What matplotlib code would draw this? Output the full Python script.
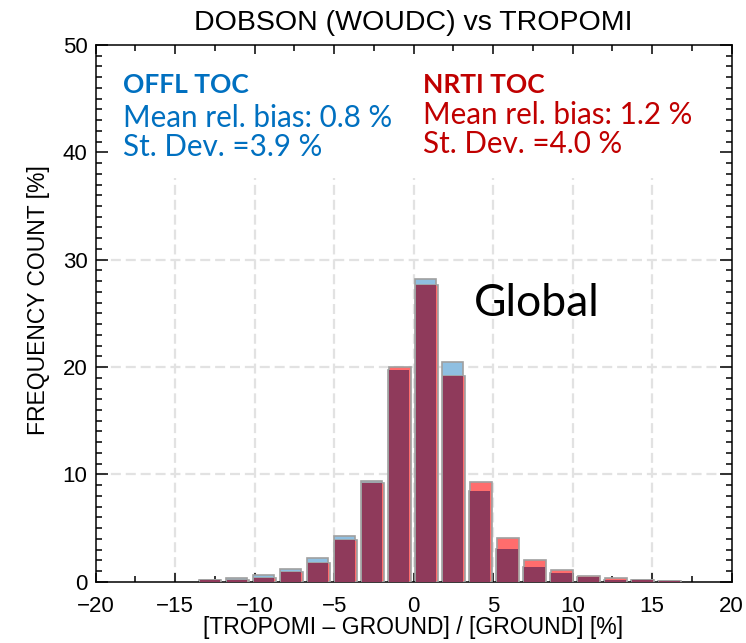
import numpy as np
import matplotlib
matplotlib.use("Agg")
import matplotlib.pyplot as plt
from matplotlib.ticker import MultipleLocator

plt.rcParams['font.family'] = ['Liberation Sans', 'DejaVu Sans']

# histogram bins (centre, %)
bin_centers = [-12.85, -11.15, -9.45, -7.75, -6.05, -4.35, -2.65, -0.95, 0.75,
               2.45, 4.15, 5.85, 7.55, 9.25, 10.95, 12.65, 14.35, 16.05]
offl_freq = [0.12, 0.35, 0.6, 1.2, 2.24, 4.26, 9.41, 19.7, 28.2,
             20.48, 8.45, 3.05, 1.4, 0.78, 0.45, 0.2, 0.12, 0.1]
nrti_freq = [0.12, 0.2, 0.37, 0.9, 1.77, 3.86, 9.17, 20.0, 27.65,
             19.2, 9.26, 4.1, 2.0, 1.12, 0.56, 0.37, 0.12, 0.1]

xticks = [-20, -15, -10, -5, 0, 5, 10, 15, 20]
yticks = [0, 10, 20, 30, 40, 50]

offl_lines = ["OFFL TOC", "Mean rel. bias: 0.8 %", "St. Dev. =3.9 %"]
nrti_lines = ["NRTI TOC", "Mean rel. bias: 1.2 %", "St. Dev. =4.0 %"]

blue = '#8fbfe1'
red = '#ff6d6d'
maroon = '#8f3a5b'
edge = '#a0a0a0'
txt_blue = '#0070c0'
txt_red = '#c00000'

bar_w = 1.36
shift = 0.08

fig = plt.figure(figsize=(7.46, 6.43), dpi=100)
ax = fig.add_axes([0.1283, 0.0953, 0.8525, 0.8347])

x = np.array(bin_centers)
b = np.array(offl_freq)
r = np.array(nrti_freq)

# dashed grid, top part hidden behind the pasted text box
for gx in [-15, -10, -5, 0, 5, 10, 15]:
    ax.plot([gx, gx], [0, 37.6], color='#e2e2e2', lw=1.6, ls=(0, (4.5, 2.2)), zorder=1)
for gy in [10, 20, 30]:
    ax.plot([-20, 20], [gy, gy], color='#e2e2e2', lw=1.6, ls=(0, (4.5, 2.2)), zorder=1)

ax.bar(x, b, width=bar_w, color=blue, edgecolor=edge, lw=1.2, zorder=2)
ax.bar(x + shift, r, width=bar_w, color=red, edgecolor=edge, lw=1.2, zorder=3)
# overlapping part of the two histograms
ov = np.minimum(b, r)
ax.bar(x + shift / 2, ov, width=bar_w - shift, color=maroon, lw=0, zorder=4)

ax.set_xlim(-20, 20)
ax.set_ylim(0, 50)
ax.set_xticks(xticks)
ax.set_yticks(yticks)
ax.set_xticklabels([str(v).replace('-', '\u2212') for v in xticks])
ax.xaxis.set_minor_locator(MultipleLocator(2.5))
ax.yaxis.set_minor_locator(MultipleLocator(1))
ax.tick_params(which='both', direction='in', top=True, right=True, width=1.1,
               labelsize=16)
ax.tick_params(axis='x', which='major', length=6.5, pad=10)
ax.tick_params(axis='x', which='minor', length=4.3)
ax.tick_params(axis='y', which='major', length=8.5, pad=6)
ax.tick_params(axis='y', which='minor', length=4.3)
for s in ax.spines.values():
    s.set_linewidth(1.1)

ax.set_xlabel("[TROPOMI \u2013 GROUND] / [GROUND] [%]", fontsize=16.5)
ax.set_ylabel("FREQUENCY COUNT [%]", fontsize=16.5)
ax.xaxis.label.set_va('center')
ax.yaxis.label.set_va('center')
ax.xaxis.set_label_coords(0.4997, -0.0844)
ax.yaxis.set_label_coords(-0.0907, 0.525)

ax.text(0.499, 1.041, "DOBSON (WOUDC) vs TROPOMI", transform=ax.transAxes,
        ha='center', va='center', fontsize=20.5)

ys_blue = [46.29, 43.2, 40.5]
ys_red = [46.29, 43.5, 40.8]
for i, (tb, tr) in enumerate(zip(offl_lines, nrti_lines)):
    w = 'bold' if i == 0 else 'normal'
    fs = 19 if i == 0 else 21.3
    ax.text(-18.28, ys_blue[i], tb, color=txt_blue, fontsize=fs, fontweight=w,
            family='Lato', ha='left', va='center')
    ax.text(0.58, ys_red[i], tr, color=txt_red, fontsize=fs, fontweight=w,
            family='Lato', ha='left', va='center')

ax.text(7.77, 24.8, "Global", fontsize=32, family='Lato', ha='center', va='baseline')

fig.savefig("out.png", dpi=100)
